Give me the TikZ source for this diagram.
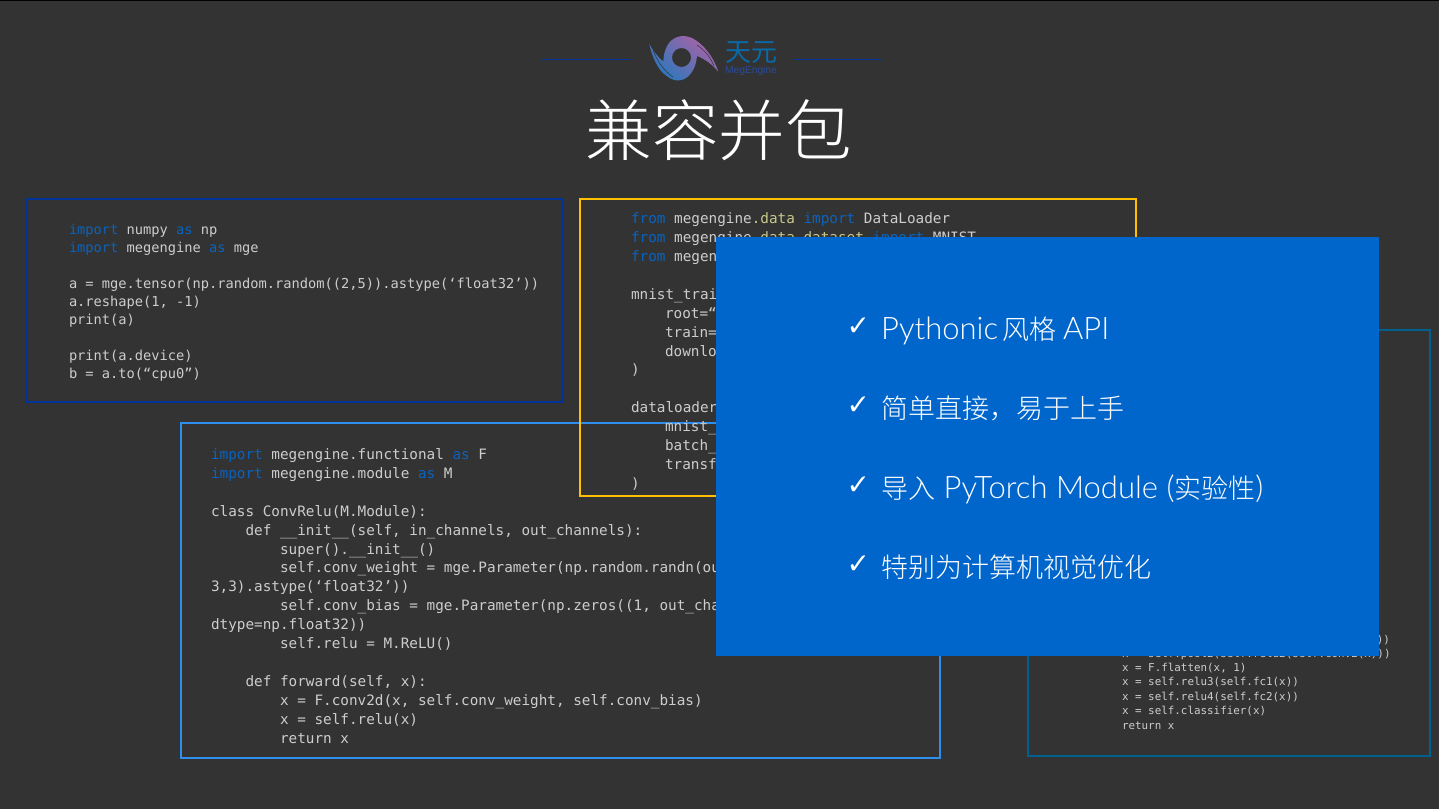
\documentclass[tikz,border=0pt]{standalone}
\usepackage{fontspec}
\setmainfont{Lato Light}
\newfontfamily\cjk{Noto Sans CJK SC Light}
\newfontfamily\cjkreg{Noto Sans CJK SC}
\newfontfamily\logof{Liberation Sans}
\newfontfamily\codef{DejaVu Sans Mono}
\newfontfamily\symf{DejaVu Sans}
\definecolor{bg}{HTML}{333333}
\definecolor{boxA}{HTML}{00349A}
\definecolor{boxB}{HTML}{FFC000}
\definecolor{boxC}{HTML}{2E8FEF}
\definecolor{boxD}{HTML}{006090}
\definecolor{panel}{HTML}{0066CC}
\definecolor{kwc}{HTML}{0A63BE}
\definecolor{datac}{HTML}{C8C88A}
\definecolor{codec}{HTML}{CDCDCD}
\definecolor{logob}{HTML}{0A6AA8}
\definecolor{logoc}{HTML}{2A4A9A}
\definecolor{swA}{HTML}{2A78BC}
\definecolor{swB}{HTML}{6F7FBE}
\definecolor{swC}{HTML}{AD62A6}
\newcounter{tn}
\newcommand{\kw}[1]{\textcolor{kwc}{#1}}
\newcommand{\dt}[1]{\textcolor{datac}{#1}}
\newcommand{\cl}[4]{\stepcounter{tn}\node[codetext,font=\codef\fontsize{#1}{#1}\selectfont] (t\thetn) at (#2,#3) {#4};}
\newcommand{\tk}[2]{\stepcounter{tn}\node[symtext,yshift=3pt] (t\thetn) at (846.5,#1) {✓};\stepcounter{tn}\node[bultext,yshift=-1pt] (t\thetn) at (881,#1) {#2};}
\tikzset{
  codetext/.style={anchor=base west,inner sep=0pt,outer sep=0pt,text=codec,yshift=-0.8pt},
  frame/.style={line width=2pt,fill=none},
  symtext/.style={anchor=base west,inner sep=0pt,text=white,font=\symf\fontsize{28}{28}\selectfont},
  bultext/.style={anchor=base west,inner sep=0pt,text=white,font=\fontsize{31}{31}\selectfont},
}
\newcommand{\zh}[1]{{\cjk\fontsize{27}{27}\selectfont #1}}
\begin{document}
\begin{tikzpicture}[x=1pt,y=-1pt]
\useasboundingbox (0,0) rectangle (1439,809);
\fill[bg] (0,0) rectangle (1439,809);
\fill[black] (0,0) rectangle (1439,1);
% logo rules
\coordinate (ra) at (542,59); \coordinate (rb) at (631,59);
\coordinate (rc) at (793,59); \coordinate (rd) at (881,59);
\draw[boxA,line width=1pt] (ra) -- (rb);
\draw[boxA,line width=1pt] (rc) -- (rd);
% logo swirl
\shade[even odd rule,shading=axis,bottom color=swA,middle color=swB,top color=swC,shading angle=-40]
  (649.3,44) .. controls (652,56) and (656,65) .. (662,72)
  .. controls (667,77) and (672,80) .. (677,80.5)
  .. controls (688,81) and (696,70) .. (697,56)
  .. controls (705,59) and (713,65) .. (718.3,71.7)
  .. controls (714,58) and (704,44) .. (692,38)
  .. controls (682,33.5) and (672,37) .. (667,46)
  .. controls (664.5,51) and (663.5,56) .. (663.3,61.7)
  .. controls (658,57) and (653,51) .. (649.3,44) -- cycle
  (691,57.5) arc[start angle=0,end angle=360,radius=9.5];
\draw[bg,line width=0.5pt] (653,50) .. controls (657,61) and (664,71) .. (673,77);
\draw[bg,line width=0.5pt] (714,66) .. controls (710,56) and (704,50) .. (697,45);
\node[anchor=center,inner sep=0pt,text=logob,font=\cjkreg\fontsize{26}{26}\selectfont] (logozh) at (751,53) {天元};
\node[anchor=center,inner sep=0pt,text=logoc,font=\logof\fontsize{10.2}{10.2}\selectfont] (logoen) at (751,71) {MegEngine};
% title
\node[anchor=center,inner sep=0pt,text=white,font=\cjk\fontsize{66.5}{66.5}\selectfont] (title) at (718.5,130.5) {兼容并包};
% box A
\draw[frame,boxA] (26.5,198.5) rectangle (563,402);
\cl{13.7}{69}{233.5}{\kw{import} numpy \kw{as} np}
\cl{13.7}{69}{251.5}{\kw{import} megengine \kw{as} mge}
\cl{13.7}{69}{287.5}{a = mge.tensor(np.random.random((2,5)).astype(‘float32’))}
\cl{13.7}{69}{305.5}{a.reshape(1, -1)}
\cl{13.7}{69}{323.5}{print(a)}
\cl{13.7}{69}{359.5}{print(a.device)}
\cl{13.7}{69}{377.5}{b = a.to(“cpu0”)}
% box C
\draw[frame,boxC] (181,423) rectangle (940,758);
\cl{14.33}{211}{458.5}{\kw{import} megengine.functional \kw{as} F}
\cl{14.33}{211}{477.5}{\kw{import} megengine.module \kw{as} M}
\cl{14.33}{211}{515.5}{class ConvRelu(M.Module):}
\cl{14.33}{245.5}{534.5}{def \_\_init\_\_(self, in\_channels, out\_channels):}
\cl{14.33}{280}{553.5}{super().\_\_init\_\_()}
\cl{14.33}{280}{571.5}{self.conv\_weight = mge.Parameter(np.random.randn(ou}
\cl{14.33}{211}{590.5}{3,3).astype(‘float32’))}
\cl{14.33}{280}{609.5}{self.conv\_bias = mge.Parameter(np.zeros((1, out\_cha}
\cl{14.33}{211}{628.5}{dtype=np.float32))}
\cl{14.33}{280}{647.5}{self.relu = M.ReLU()}
\cl{14.33}{245.5}{685.5}{def forward(self, x):}
\cl{14.33}{280}{704.5}{x = F.conv2d(x, self.conv\_weight, self.conv\_bias)}
\cl{14.33}{280}{723.5}{x = self.relu(x)}
\cl{14.33}{280}{742.5}{return x}
% box B
\fill[bg] (580,430) rectangle (716,496);
\draw[frame,boxB] (580,199) rectangle (1136,496);
\cl{14.33}{631}{222.5}{\kw{from} megengine\dt{.data} \kw{import} DataLoader}
\cl{14.33}{631}{241.5}{\kw{from} megengine\dt{.data.dataset} \kw{import} MNIST}
\cl{14.33}{631}{260.5}{\kw{from} megen}
\cl{14.33}{631}{298.5}{mnist\_trai}
\cl{14.33}{665}{317.5}{root=“}
\cl{14.33}{665}{336.5}{train=}
\cl{14.33}{665}{355.5}{downlo}
\cl{14.33}{631}{373.5}{)}
\cl{14.33}{631}{411.5}{dataloader}
\cl{14.33}{665}{430.5}{mnist\_}
\cl{14.33}{665}{449.5}{batch\_}
\cl{14.33}{665}{468.5}{transf}
\cl{14.33}{631}{487.5}{)}
% box D
\draw[frame,boxD] (1028,330) rectangle (1430,756);
\stepcounter{tn}\node[codetext,anchor=base east,font=\codef\fontsize{10.88}{10.88}\selectfont] (t\thetn) at (1390,642.5) {))};
\cl{10.88}{1122}{657}{x = self.pool2(self.relu2(self.conv2(x)))}
\cl{10.88}{1122}{671}{x = F.flatten(x, 1)}
\cl{10.88}{1122}{685}{x = self.relu3(self.fc1(x))}
\cl{10.88}{1122}{699.5}{x = self.relu4(self.fc2(x))}
\cl{10.88}{1122}{713.5}{x = self.classifier(x)}
\cl{10.88}{1122}{728.5}{return x}
% panel
\fill[panel] (716,237) rectangle (1379,656);
\tk{338}{Pythonic\hspace{-4pt} \zh{风格}\hspace{-2pt} API}
\tk{417}{\zh{简单直接，易于上手}}
\tk{497}{\zh{导入} PyTorch Module (\zh{实验性})}
\tk{576}{\zh{特别为计算机视觉优化}}
\end{tikzpicture}
\end{document}
